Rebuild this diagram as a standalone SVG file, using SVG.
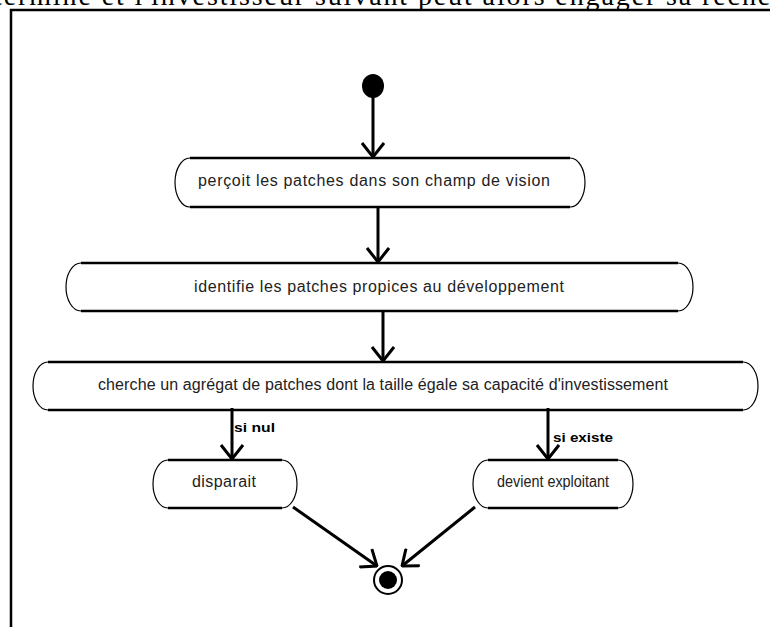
<svg xmlns="http://www.w3.org/2000/svg" width="770" height="627" viewBox="0 0 770 627">
<defs>
<style>
.frame{fill:none;stroke:#000;stroke-width:2.5}
.edge{fill:none;stroke:#000;stroke-width:2.5}
.cap{fill:none;stroke:#000;stroke-width:1.2}
.lbl{font-family:"Liberation Sans",Arial,sans-serif;font-size:16px;fill:#222;text-anchor:middle}
.grd{font-family:"Liberation Sans",Arial,sans-serif;font-size:13px;font-weight:bold;fill:#000}
.conn{fill:none;stroke:#000;stroke-width:3}
.top{font-family:"Liberation Serif","Times New Roman",serif;font-size:28px;fill:#000}
</style>
<marker id="arr" viewBox="0 0 16 24" refX="15" refY="12" markerWidth="16" markerHeight="24" markerUnits="userSpaceOnUse" orient="auto">
<path d="M1,1 L15,12 L1,23" fill="none" stroke="#000" stroke-width="3"/>
</marker>
</defs>
<rect width="770" height="627" fill="#fff"/>
<text class="top" x="-6" y="5" textLength="832">terminé et l'investisseur suivant peut alors engager sa recherche</text>
<path class="frame" d="M11,627V10H770"/>

<g id="start"><ellipse cx="373" cy="86" rx="11" ry="12" fill="#000"/></g>

<g id="n1">
<path class="edge" d="M190,158H570M190,207H570"/>
<path class="cap" d="M190,158A15,24.5 0 0 0 190,207M570,158A15,24.5 0 0 1 570,207"/>
<text class="lbl" x="374" y="186" textLength="352">perçoit les patches dans son champ de vision</text>
</g>
<g id="n2">
<path class="edge" d="M81,263H678M81,311H678"/>
<path class="cap" d="M81,263A15,24 0 0 0 81,311M678,263A15,24 0 0 1 678,311"/>
<text class="lbl" x="379" y="292" textLength="370">identifie les patches propices au développement</text>
</g>
<g id="n3">
<path class="edge" d="M48,362H743M48,410H743"/>
<path class="cap" d="M48,362A15,24 0 0 0 48,410M743,362A15,24 0 0 1 743,410"/>
<text class="lbl" x="383" y="390" textLength="570">cherche un agrégat de patches dont la taille égale sa capacité d'investissement</text>
</g>
<g id="n4">
<path class="edge" d="M168,460H282M168,508H282"/>
<path class="cap" d="M168,460A15,24 0 0 0 168,508M282,460A15,24 0 0 1 282,508"/>
<text class="lbl" x="224" y="487" textLength="64">disparait</text>
</g>
<g id="n5">
<path class="edge" d="M488,460H618M488,508H618"/>
<path class="cap" d="M488,460A15,24 0 0 0 488,508M618,460A15,24 0 0 1 618,508"/>
<text class="lbl" x="553" y="487" textLength="112" lengthAdjust="spacingAndGlyphs">devient exploitant</text>
</g>
<g id="end">
<circle cx="388" cy="580" r="14" fill="#fff" stroke="#000" stroke-width="2"/>
<circle cx="388" cy="580" r="9" fill="#000"/>
</g>

<g id="connectors">
<path class="conn" d="M373,97V157" marker-end="url(#arr)"/>
<path class="conn" d="M378,207V262" marker-end="url(#arr)"/>
<path class="conn" d="M383,311V361" marker-end="url(#arr)"/>
<path class="conn" d="M232,408V459" marker-end="url(#arr)"/>
<path class="conn" d="M548,408V459" marker-end="url(#arr)"/>
<path class="conn" d="M293,507L377,566" marker-end="url(#arr)"/>
<path class="conn" d="M475,507L402,566" marker-end="url(#arr)"/>
<text class="grd" x="234" y="432" textLength="41" lengthAdjust="spacingAndGlyphs">si nul</text>
<text class="grd" x="553" y="442" textLength="60" lengthAdjust="spacingAndGlyphs">si existe</text>
</g>
</svg>
